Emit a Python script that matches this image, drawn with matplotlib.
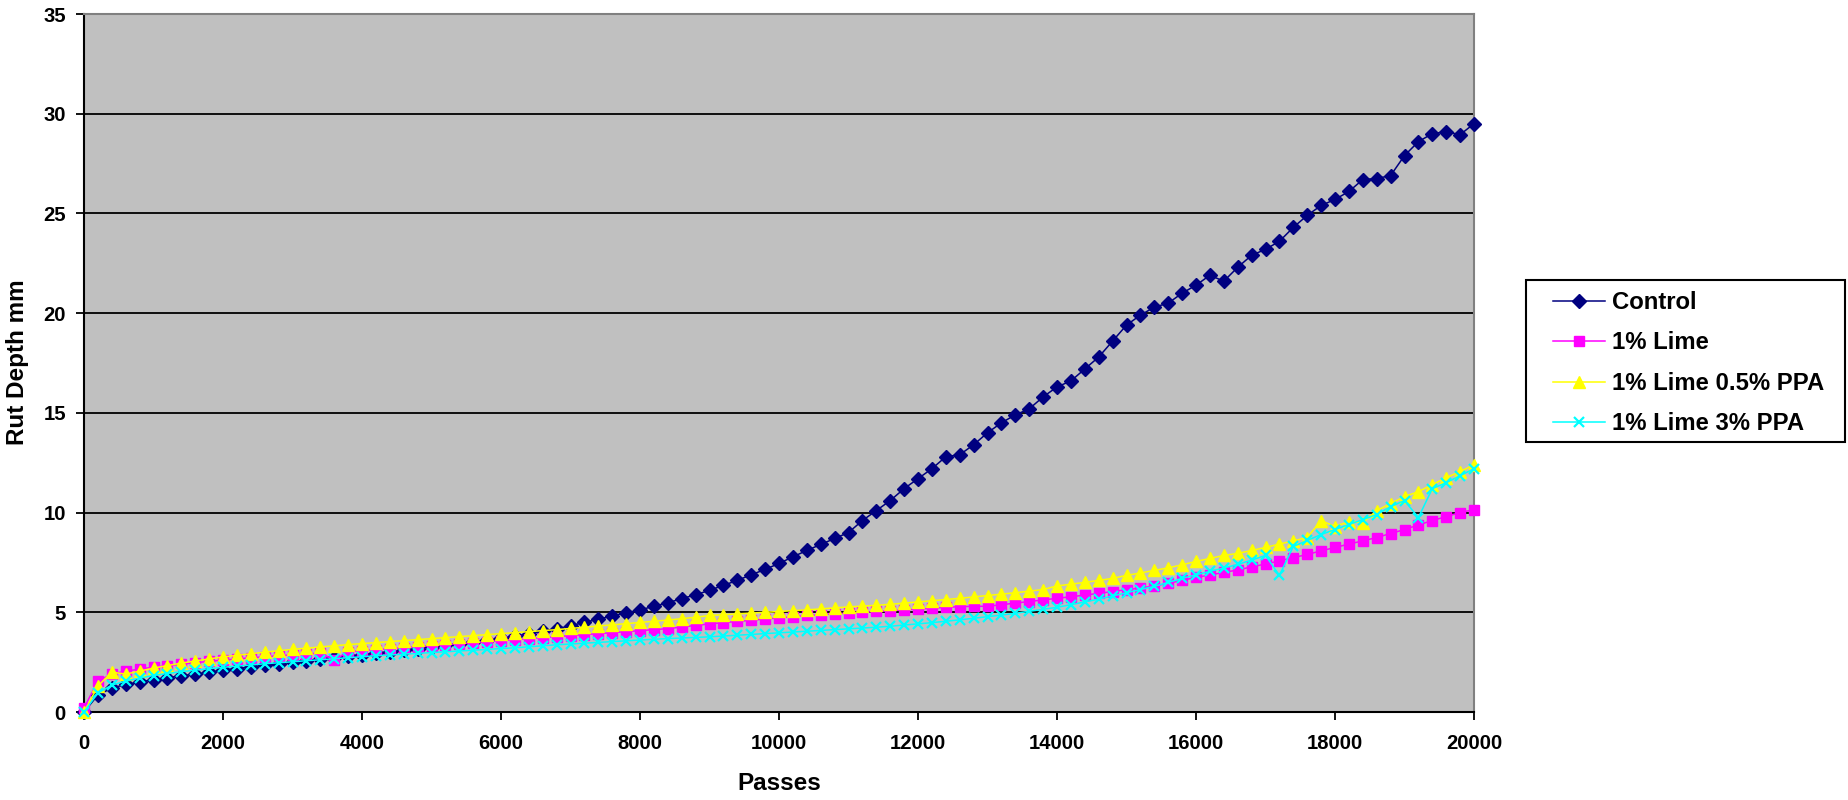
import matplotlib
matplotlib.use("Agg")
import matplotlib.pyplot as plt
from matplotlib.patches import Rectangle
import numpy as np

plt.rcParams['font.family'] = ['Liberation Sans', 'DejaVu Sans']
plt.rcParams['font.weight'] = 'bold'

# passes every 200, 0..20000
passes = np.arange(0, 20001, 200)

control = [
    0.0, 0.85, 1.2, 1.38, 1.5, 1.62, 1.72, 1.82, 1.9, 2.0,
    2.1, 2.18, 2.26, 2.34, 2.42, 2.5, 2.58, 2.65, 2.72, 2.8,
    2.88, 2.95, 3.02, 3.1, 3.18, 3.26, 3.34, 3.42, 3.5, 3.6,
    3.7, 3.8, 3.92, 4.05, 4.18, 4.32, 4.5, 4.65, 4.82, 4.98,
    5.12, 5.3, 5.48, 5.68, 5.88, 6.1, 6.35, 6.6, 6.88, 7.15,
    7.45, 7.78, 8.1, 8.4, 8.7, 9.0, 9.6, 10.1, 10.6, 11.2,
    11.7, 12.2, 12.8, 12.9, 13.4, 14.0, 14.5, 14.9, 15.2, 15.8,
    16.3, 16.6, 17.2, 17.8, 18.6, 19.4, 19.9, 20.3, 20.5, 21.0,
    21.4, 21.9, 21.6, 22.3, 22.9, 23.2, 23.6, 24.3, 24.9, 25.4,
    25.7, 26.1, 26.7, 26.75, 26.9, 27.9, 28.6, 29.0, 29.1, 28.95,
    29.5]

lime = [
    0.2, 1.55, 1.9, 2.05, 2.15, 2.25, 2.32, 2.4, 2.47, 2.54,
    2.6, 2.66, 2.72, 2.77, 2.82, 2.87, 2.9, 2.97, 2.6, 3.02,
    3.08, 3.13, 3.18, 3.23, 3.28, 3.33, 3.38, 3.43, 3.48, 3.53,
    3.58, 3.63, 3.68, 3.73, 3.78, 3.83, 3.88, 3.93, 3.98, 4.03,
    4.08, 4.13, 4.18, 4.26, 4.34, 4.42, 4.48, 4.54, 4.6, 4.66,
    4.72, 4.78, 4.84, 4.88, 4.92, 4.96, 5.0, 5.04, 5.08, 5.12,
    5.16, 5.2, 5.25, 5.28, 5.3, 5.3, 5.38, 5.46, 5.54, 5.62,
    5.7, 5.78, 5.86, 5.95, 6.04, 6.13, 6.22, 6.32, 6.45, 6.6,
    6.75, 6.87, 7.0, 7.12, 7.28, 7.42, 7.58, 7.74, 7.9, 8.08,
    8.25, 8.42, 8.58, 8.75, 8.95, 9.15, 9.38, 9.6, 9.8, 10.0,
    10.15]

lime_ppa05 = [
    0.0, 1.3, 2.0, 1.9, 2.05, 2.2, 2.33, 2.45, 2.56, 2.66,
    2.76, 2.84, 2.92, 3.0, 3.07, 3.14, 3.2, 3.26, 3.32, 3.38,
    3.43, 3.48, 3.53, 3.58, 3.63, 3.68, 3.73, 3.78, 3.83, 3.88,
    3.93, 3.98, 4.03, 4.08, 4.13, 4.19, 4.25, 4.31, 4.37, 4.43,
    4.49, 4.55, 4.61, 4.68, 4.75, 4.84, 4.88, 4.92, 4.96, 5.0,
    5.04, 5.08, 5.12, 5.17, 5.22, 5.27, 5.31, 5.35, 5.4, 5.46,
    5.52, 5.58, 5.64, 5.7, 5.77, 5.84, 5.91, 5.98, 6.06, 6.14,
    6.32, 6.41, 6.5, 6.6, 6.7, 6.85, 6.97, 7.1, 7.23, 7.38,
    7.55, 7.7, 7.85, 7.95, 8.1, 8.25, 8.42, 8.58, 8.75, 9.6,
    9.3, 9.55, 9.5, 10.1, 10.45, 10.8, 11.05, 11.4, 11.75, 12.05,
    12.4]

lime_ppa3 = [
    0.0, 0.95, 1.35, 1.55, 1.7, 1.83, 1.93, 2.02, 2.1, 2.17,
    2.24, 2.3, 2.36, 2.42, 2.47, 2.52, 2.57, 2.62, 2.67, 2.72,
    2.77, 2.82, 2.86, 2.9, 2.94, 2.98, 3.02, 3.06, 3.1, 3.14,
    3.18, 3.22, 3.27, 3.32, 3.37, 3.41, 3.45, 3.49, 3.53, 3.57,
    3.61, 3.65, 3.68, 3.71, 3.74, 3.77, 3.81, 3.85, 3.89, 3.93,
    3.97, 4.01, 4.05, 4.09, 4.13, 4.17, 4.21, 4.25, 4.3, 4.36,
    4.42, 4.48, 4.55, 4.62, 4.7, 4.78, 4.86, 4.95, 5.05, 5.15,
    5.25, 5.38, 5.52, 5.66, 5.82, 5.98, 6.14, 6.3, 6.5, 6.7,
    6.88, 7.05, 7.22, 7.4, 7.62, 7.85, 6.85, 8.3, 8.6, 8.9,
    9.15, 9.4, 9.65, 9.9, 10.3, 10.6, 9.75, 11.2, 11.5, 11.85,
    12.2]

W, H = 1848, 800
fig = plt.figure(figsize=(W / 100, H / 100), dpi=100)
ax = fig.add_axes([84 / W, 1 - 712 / H, 1390 / W, 698 / H])
ax.set_facecolor('#C0C0C0')

ax.plot(passes, control, color='#000080', marker='D', markersize=7, lw=1.1,
        label='Control', clip_on=False, zorder=3)
ax.plot(passes, lime, color='#FF00FF', marker='s', markersize=7.5, lw=1.1,
        label='1% Lime', clip_on=False, zorder=3)
ax.plot(passes, lime_ppa05, color='#FFFF00', marker='^', markersize=8.5, lw=1.1,
        label='1% Lime 0.5% PPA', clip_on=False, zorder=3)
ax.plot(passes, lime_ppa3, color='#00FFFF', marker='x', markersize=7, mew=1.6, lw=1.1,
        label='1% Lime 3% PPA', clip_on=False, zorder=3)

ax.set_xlim(0, 20000)
ax.set_ylim(0, 35)
ax.set_xticks(np.arange(0, 20001, 2000))
ax.set_yticks(np.arange(0, 36, 5))
ax.yaxis.grid(True, color='black', lw=1.3)
ax.set_axisbelow(True)
ax.tick_params(direction='out', length=6, width=1.3, labelsize=14.6, pad=7)
ax.tick_params(axis='x', pad=10)
for lab in ax.get_xticklabels() + ax.get_yticklabels():
    lab.set_fontweight('bold')

for s in ['left', 'bottom']:
    ax.spines[s].set_color('black')
    ax.spines[s].set_linewidth(1.5)
for s in ['top', 'right']:
    ax.spines[s].set_color('#808080')
    ax.spines[s].set_linewidth(1.5)

fig.text(779 / W, 1 - 784 / H, 'Passes', fontsize=17.5, fontweight='bold',
         ha='center', va='center')
fig.text(18 / W, 1 - 362 / H, 'Rut Depth mm', fontsize=17.5, fontweight='bold',
         rotation=90, ha='center', va='center')

# legend box
fig.patches.append(Rectangle((1526 / W, 1 - 442 / H), 319 / W, 162 / H,
                             transform=fig.transFigure, facecolor='white',
                             edgecolor='black', lw=1.5, zorder=1))
leg = fig.legend(loc='upper left', bbox_to_anchor=(1553 / W, 1 - 291 / H),
                 fontsize=17.2, frameon=False,
                 handlelength=2.18, handletextpad=0.3, labelspacing=0.73,
                 borderpad=0, borderaxespad=0)
leg.set_zorder(2)
for t in leg.get_texts():
    t.set_fontweight('bold')

fig.savefig('out.png', dpi=100)
